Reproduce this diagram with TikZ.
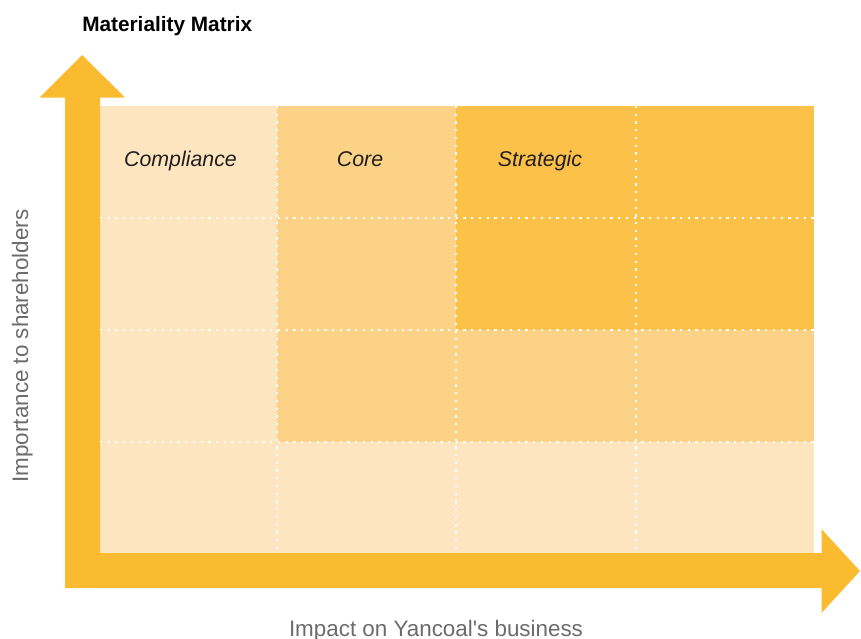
\documentclass[tikz,border=0pt]{standalone}
\usepackage{fontspec}
\setmainfont{Liberation Sans}
\definecolor{lightc}{HTML}{FDE6BF}
\definecolor{medc}{HTML}{FCD386}
\definecolor{darkc}{HTML}{FBC148}
\definecolor{arrowc}{HTML}{FBBB31}
\definecolor{labelgray}{HTML}{6B6B6B}
\definecolor{celltext}{HTML}{231F20}
\begin{document}
\begin{tikzpicture}[x=0.75pt,y=-0.75pt,
  gridline/.style={white,line width=1.7pt,dash pattern=on 1.7pt off 4.1pt},
  celllabel/.style={font=\fontsize{16}{18}\selectfont\itshape,text=celltext,anchor=base,inner sep=0pt},
  axislabel/.style={font=\fontsize{16.8}{19}\selectfont,text=labelgray,anchor=base,inner sep=0pt}]
\useasboundingbox (0,0) rectangle (861,639);
% row 1
\fill[lightc] (100,106) rectangle (277,218);
\fill[medc] (277,106) rectangle (456,218);
\fill[darkc] (456,106) rectangle (814,218);
% row 2
\fill[lightc] (100,218) rectangle (277,330);
\fill[medc] (277,218) rectangle (456,330);
\fill[darkc] (456,218) rectangle (814,330);
% row 3
\fill[lightc] (100,330) rectangle (277,442);
\fill[medc] (277,330) rectangle (814,442);
% row 4
\fill[lightc] (100,442) rectangle (814,553);
% dotted grid
\foreach \x in {277,456,636} \draw[gridline] (\x,106) -- (\x,553);
\foreach \y in {218,330,442} \draw[gridline] (100,\y) -- (814,\y);
% arrows
\fill[arrowc] (65,588) -- (65,97.5) -- (39.5,97.5) -- (82,55) -- (125,97.5) -- (100,97.5) -- (100,553)
  -- (821.5,553) -- (821.5,529) -- (860,571) -- (821.5,613) -- (821.5,588) -- cycle;
% labels
\node[celllabel] (comp) at (180.5,166.5) {Compliance};
\node[celllabel] (core) at (360,166.5) {Core};
\node[celllabel] (strat) at (540,166.5) {Strategic};
\node[font=\fontsize{15.6}{18}\selectfont\bfseries,anchor=base west,inner sep=0pt] (title) at (82,31.5) {Materiality Matrix};
\node[axislabel] (xlab) at (436,636) {Impact on Yancoal\textquotesingle s business};
\node[axislabel,rotate=90] (ylab) at (28,346) {Importance to shareholders};
\end{tikzpicture}
\end{document}
